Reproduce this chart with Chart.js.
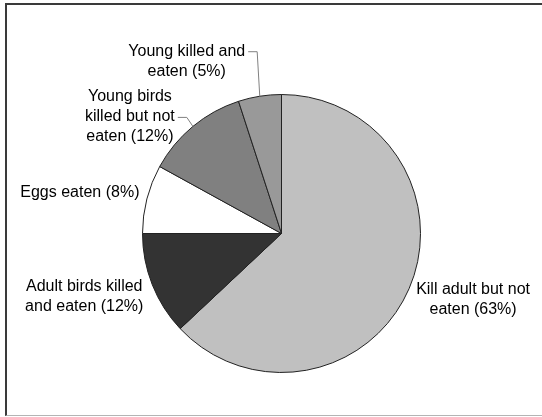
<!DOCTYPE html>
<html>
<head>
<meta charset="utf-8">
<script src="https://cdn.jsdelivr.net/npm/chart.js@4.4.0/dist/chart.umd.min.js"></script>
<style>
  html, body { margin: 0; padding: 0; background: #fff; }
  #frame {
    position: absolute; left: 5px; top: 3px; width: 537px; height: 413px;
    border-top: 2px solid #3a3a3a; border-left: 2px solid #3a3a3a;
    border-bottom: 1px solid #b4b4b4; box-sizing: border-box;
  }
  #wrap { position: absolute; left: 0; top: 0; width: 542px; height: 417px; }
</style>
</head>
<body>
<div id="frame"></div>
<div id="wrap"><canvas id="myChart"></canvas></div>
<script>
// slices go clockwise from 12 o'clock
const categories = ['Kill adult but not eaten', 'Adult birds killed and eaten', 'Eggs eaten', 'Young birds killed but not eaten', 'Young killed and eaten'];
const shares = [63, 12, 8, 12, 5];
const labelLines = [
    ['Kill adult but not', 'eaten (' + shares[0] + '%)'],
    ['Adult birds killed', 'and eaten (' + shares[1] + '%)'],
    ['Eggs eaten (' + shares[2] + '%)'],
    ['Young birds', 'killed but not', 'eaten (' + shares[3] + '%)'],
    ['Young killed and', 'eaten (' + shares[4] + '%)']
];
const sliceColors = ['#c0c0c0', '#333333', '#ffffff', '#808080', '#999999'];

// where each label block sits, relative to the slice's outer mid point
const labelOffsets = [
    { dx: 64, dy: 11 },
    { dx: -68, dy: 12 },
    { dx: -67, dy: -6 },
    { dx: -63, dy: -9.5, leader: true },
    { dx: -73, dy: -35, leader: true }
];

const pieLabels = {
    id: 'pieLabels',
    afterDraw(chart) {
        const ctx = chart.ctx;
        const arcs = chart.getDatasetMeta(0).data;
        ctx.save();
        ctx.font = '16px "Liberation Sans", Arial, sans-serif';
        ctx.textAlign = 'center';
        ctx.textBaseline = 'middle';
        arcs.forEach((arc, i) => {
            const mid = (arc.startAngle + arc.endAngle) / 2;
            const ex = arc.x + Math.cos(mid) * arc.outerRadius;
            const ey = arc.y + Math.sin(mid) * arc.outerRadius;
            const off = labelOffsets[i];
            const lines = labelLines[i];
            const lh = 20;
            const cx = ex + off.dx;
            const cy = ey + off.dy;
            const top = cy - (lines.length - 1) * lh / 2;
            ctx.fillStyle = '#000';
            lines.forEach((t, k) => ctx.fillText(t, cx, top + k * lh));

            // leader from the text's right end to the slice edge
            if (off.leader) {
                const row = i === 4 ? 0 : 1;
                const lineY = top + row * lh;
                const lineW = ctx.measureText(lines[row]).width;
                const startX = cx + lineW / 2 + 3;
                ctx.strokeStyle = '#808080';
                ctx.lineWidth = 1;
                ctx.beginPath();
                ctx.moveTo(startX, lineY + 0.5);
                ctx.lineTo(startX + 9, lineY + 0.5);
                ctx.lineTo(ex, ey);
                ctx.stroke();
            }
        });
        ctx.restore();
    }
};

const ctx = document.getElementById('myChart').getContext('2d');
new Chart(ctx, {
    type: 'pie',
    data: {
        labels: categories,
        datasets: [{
            data: shares,
            backgroundColor: sliceColors,
            borderColor: '#222222',
            borderWidth: 1
        }]
    },
    options: {
        responsive: true,
        maintainAspectRatio: false,
        animation: false,
        layout: { padding: { top: 94, bottom: 44, left: 142, right: 121 } },
        plugins: { legend: { display: false }, tooltip: { enabled: false } }
    },
    plugins: [pieLabels]
});
</script>
</body>
</html>
